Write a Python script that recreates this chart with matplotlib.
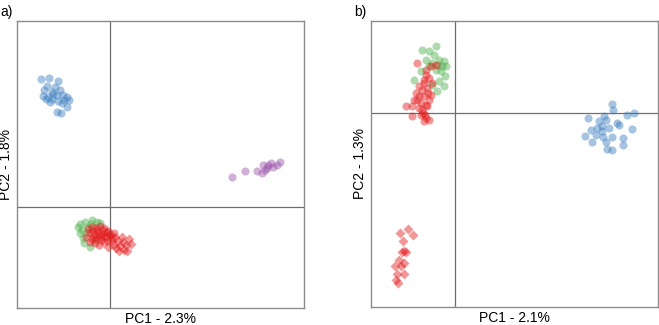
import matplotlib.pyplot as plt
import numpy as np

plt.rcParams['font.family'] = ['Liberation Sans', 'DejaVu Sans']

# panel a) scores (PC1, PC2)
a_blue_x = [-0.069, -0.061, -0.052, -0.063, -0.055, -0.066, -0.058, -0.050, -0.067, -0.062, -0.058, -0.053,
            -0.047, -0.043, -0.041, -0.060, -0.052, -0.048, -0.043, -0.053, -0.049, -0.057, -0.064, -0.046]
a_blue_y = [0.128, 0.129, 0.126, 0.121, 0.120, 0.117, 0.115, 0.117, 0.111, 0.110, 0.108, 0.112,
            0.112, 0.110, 0.107, 0.105, 0.106, 0.104, 0.100, 0.095, 0.094, 0.113, 0.108, 0.107]
a_purple_x = [0.122, 0.135, 0.147, 0.152, 0.153, 0.157, 0.161, 0.163, 0.170, 0.167, 0.158, 0.155]
a_purple_y = [0.030, 0.036, 0.036, 0.034, 0.042, 0.039, 0.044, 0.040, 0.045, 0.042, 0.042, 0.037]
a_green_x = [-0.030, -0.025, -0.018, -0.013, -0.028, -0.030, -0.023, -0.020, -0.010, -0.027, -0.022, -0.015,
             -0.032, -0.026, -0.019]
a_green_y = [-0.017, -0.015, -0.013, -0.015, -0.023, -0.026, -0.026, -0.040, -0.016, -0.031, -0.020, -0.033,
             -0.020, -0.036, -0.017]
a_red_x = [-0.022, -0.018, -0.014, -0.010, -0.006, -0.002, -0.020, -0.016, -0.012, -0.008, -0.004, 0.000, -0.024,
           -0.018, -0.013, -0.009, -0.005, 0.002, -0.015, -0.011, -0.006, -0.020, -0.002, -0.017, -0.007, 0.004,
           -0.013, -0.009, -0.016, -0.004, -0.011]
a_red_y = [-0.022, -0.020, -0.021, -0.019, -0.021, -0.024, -0.026, -0.028, -0.025, -0.027, -0.029, -0.027, -0.030,
           -0.032, -0.031, -0.033, -0.030, -0.031, -0.036, -0.038, -0.035, -0.035, -0.034, -0.024, -0.023, -0.026,
           -0.023, -0.030, -0.031, -0.025, -0.028]
a_redd_x = [0.000, 0.005, 0.008, 0.004, 0.010, 0.013, 0.016, 0.019, 0.021, 0.014, 0.009, 0.006, -0.002, 0.012, 0.017, 0.002]
a_redd_y = [-0.028, -0.030, -0.034, -0.038, -0.039, -0.035, -0.038, -0.032, -0.037, -0.043, -0.044, -0.041, -0.040,
            -0.030, -0.044, -0.034]

# panel b) scores (PC1, PC2)
b_blue_x = [0.157, 0.158, 0.133, 0.149, 0.172, 0.179, 0.144, 0.151, 0.162, 0.164, 0.136, 0.142, 0.147,
            0.154, 0.177, 0.130, 0.141, 0.148, 0.157, 0.168, 0.137, 0.151, 0.168, 0.152, 0.157, 0.147]
b_blue_y = [0.009, 0.003, -0.005, -0.003, -0.002, 0.000, -0.008, -0.007, -0.010, -0.012, -0.017, -0.015, -0.013,
            -0.015, -0.016, -0.023, -0.022, -0.024, -0.024, -0.025, -0.029, -0.029, -0.032, -0.036, -0.037, -0.018]
b_green_x = [-0.033, -0.019, -0.026, -0.021, -0.016, -0.011, -0.013, -0.009, -0.034, -0.026, -0.019,
             -0.014, -0.010, -0.016, -0.041, -0.018, -0.023, -0.029, -0.011, -0.017, -0.023]
b_green_y = [0.063, 0.067, 0.062, 0.058, 0.053, 0.052, 0.047, 0.047, 0.042, 0.047, 0.043,
             0.042, 0.037, 0.032, 0.033, 0.022, 0.028, 0.053, 0.027, 0.048, 0.050]
b_red_x = [-0.038, -0.029, -0.024, -0.019, -0.031, -0.026, -0.039, -0.033, -0.028, -0.038, -0.031, -0.024, -0.049, -0.043,
           -0.036, -0.029, -0.043, -0.034, -0.029, -0.031, -0.026, -0.033, -0.026, -0.023, -0.036, -0.028, -0.041, -0.031,
           -0.029, -0.034, -0.027, -0.032, -0.036, -0.030]
b_red_y = [0.050, 0.043, 0.047, 0.048, 0.033, 0.035, 0.020, 0.023, 0.025, 0.013, 0.017, 0.018, 0.007, 0.007,
           0.005, 0.008, -0.003, -0.002, -0.005, -0.008, -0.007, 0.003, 0.013, 0.030, 0.027, 0.007, 0.013, 0.030,
           0.038, 0.010, 0.020, 0.000, 0.017, -0.002]
b_redd_x = [-0.055, -0.047, -0.042, -0.052, -0.051, -0.053, -0.049, -0.056, -0.051, -0.060, -0.054, -0.058, -0.051, -0.057, -0.059]
b_redd_y = [-0.120, -0.116, -0.122, -0.128, -0.138, -0.139, -0.139, -0.147, -0.150, -0.153, -0.153, -0.161, -0.161, -0.170, -0.167]

BLUE = '#3a7ebf'
GREEN = '#4daf4a'
RED = '#e41a1c'
PURPLE = '#9850a8'


def setup(ax, xlim, ylim, xlabel, ylabel):
    ax.set_xlim(xlim)
    ax.set_ylim(ylim)
    ax.set_xticks([])
    ax.set_yticks([])
    for s in ax.spines.values():
        s.set_color('#8c8c8c')
        s.set_linewidth(1.0)
    ax.axvline(0, color='#6e6e6e', lw=0.9, zorder=1)
    ax.axhline(0, color='#6e6e6e', lw=0.9, zorder=1)
    ax.set_xlabel(xlabel, fontsize=10, labelpad=3)
    ax.set_ylabel(ylabel, fontsize=10, labelpad=3)


fig = plt.figure(figsize=(6.59, 3.25), dpi=100)
ax1 = fig.add_axes([0.0258, 0.0523, 0.4355, 0.883])
ax2 = fig.add_axes([0.563, 0.0554, 0.4355, 0.880])

kw = dict(s=34, alpha=0.45, linewidths=0, zorder=2)
dkw = dict(kw, s=26)
setup(ax1, (-0.093, 0.194), (-0.101, 0.186), 'PC1 - 2.3%', 'PC2 - 1.8%')
ax1.scatter(a_blue_x, a_blue_y, c=BLUE, marker='o', **kw)
ax1.scatter(a_purple_x, a_purple_y, c=PURPLE, marker='o', **kw)
ax1.scatter(a_green_x, a_green_y, c=GREEN, marker='o', **kw)
ax1.scatter(a_red_x, a_red_y, c=RED, marker='o', **kw)
ax1.scatter(a_redd_x, a_redd_y, c=RED, marker='D', **dkw)

setup(ax2, (-0.084, 0.203), (-0.194, 0.092), 'PC1 - 2.1%', 'PC2 - 1.3%')
ax2.scatter(b_blue_x, b_blue_y, c=BLUE, marker='o', **kw)
ax2.scatter(b_green_x, b_green_y, c=GREEN, marker='o', **kw)
ax2.scatter(b_red_x, b_red_y, c=RED, marker='o', **kw)
ax2.scatter(b_redd_x, b_redd_y, c=RED, marker='D', **dkw)

fig.text(0.0, 0.985, 'a)', fontsize=10, va='top', ha='left')
fig.text(0.537, 0.985, 'b)', fontsize=10, va='top', ha='left')

fig.savefig('out.png', dpi=100)
